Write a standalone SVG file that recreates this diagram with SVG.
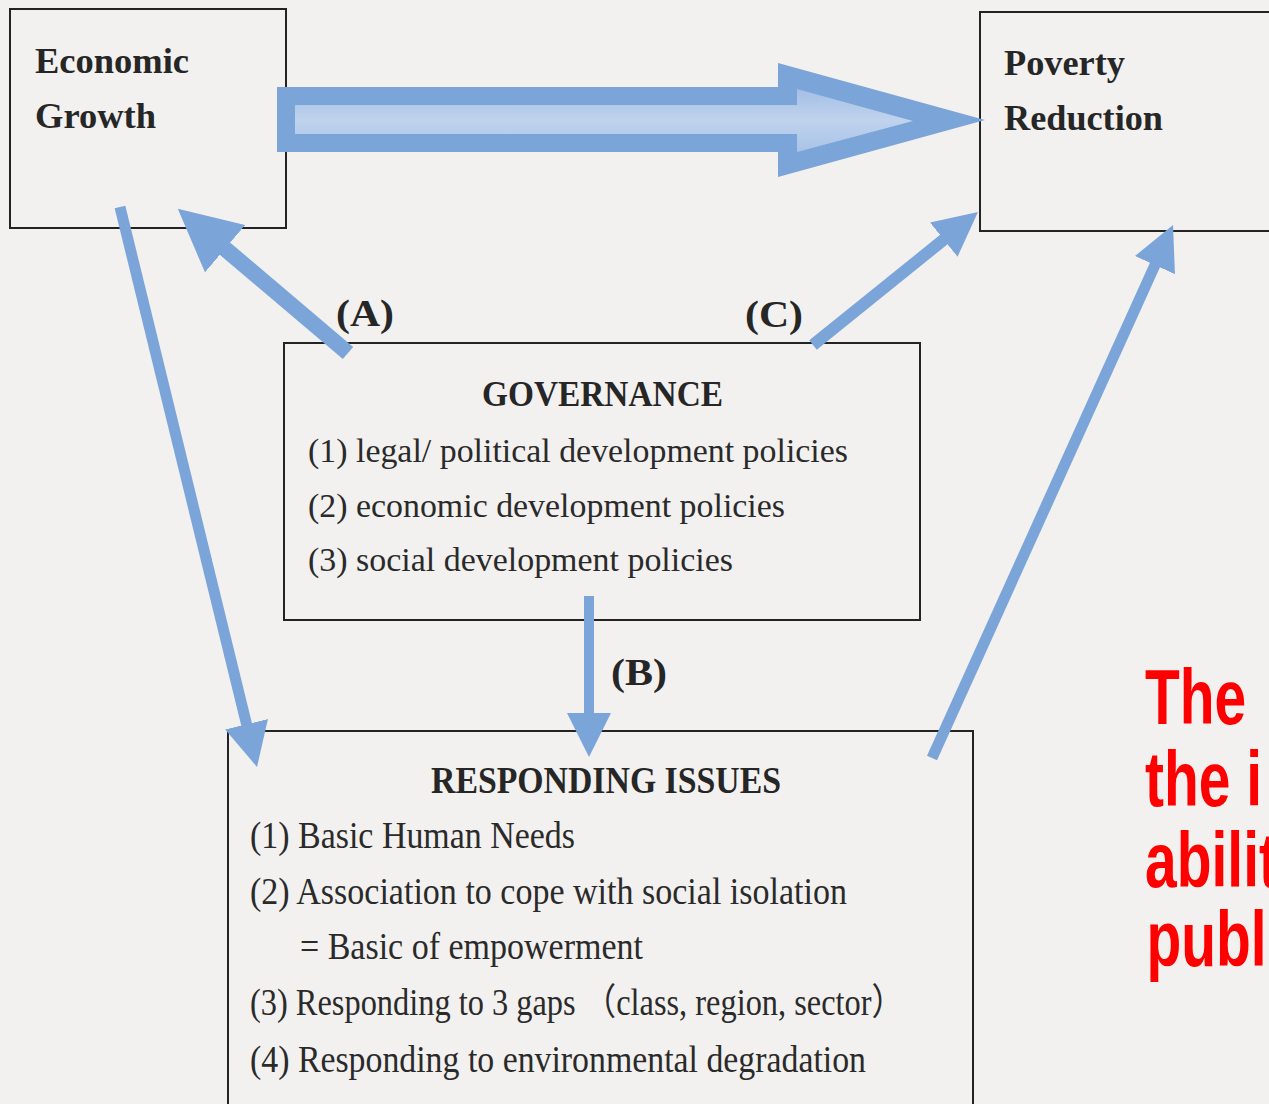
<svg xmlns="http://www.w3.org/2000/svg" width="1269" height="1104" viewBox="0 0 1269 1104">
  <style>
    .box { fill: none; stroke: #232323; stroke-width: 2; }
    .title { font-family: "Liberation Serif", "Times New Roman", serif; font-weight: bold; fill: #262626; }
    .body { font-family: "Liberation Serif", "Noto Sans CJK JP", serif; fill: #2a2a2a; }
    .conn { fill: none; stroke: #7ba4d9; stroke-linecap: butt; }
    .red { font-family: "Liberation Sans", "Arial", sans-serif; font-weight: bold; fill: #ff0000; font-size: 77px; }
  </style>
  <defs>
    <marker id="head" markerUnits="userSpaceOnUse" viewBox="0 0 44 44" markerWidth="44" markerHeight="44" refX="1" refY="22" orient="auto">
      <path d="M0,0 L44,22 L0,44 z" fill="#7ba4d9"/>
    </marker>
    <marker id="headBig" markerUnits="userSpaceOnUse" viewBox="0 0 62 62" markerWidth="62" markerHeight="62" refX="1" refY="31" orient="auto">
      <path d="M0,0 L62,31 L0,62 z" fill="#7ba4d9"/>
    </marker>
    <linearGradient id="inner" x1="0" y1="0" x2="0" y2="1">
      <stop offset="0" stop-color="#a3bfe5"/>
      <stop offset="0.5" stop-color="#c0d3ee"/>
      <stop offset="1" stop-color="#a8c3e7"/>
    </linearGradient>
  </defs>

  <rect x="0" y="0" width="1269" height="1104" fill="#f2f1ef"/>

  <g id="node-economic-growth">
    <rect class="box" x="10" y="9" width="276" height="219"/>
    <text class="title" x="35" y="73" font-size="36" textLength="154" lengthAdjust="spacingAndGlyphs">Economic</text>
    <text class="title" x="35" y="128" font-size="36" textLength="121" lengthAdjust="spacingAndGlyphs">Growth</text>
  </g>

  <g id="node-poverty-reduction">
    <rect class="box" x="980" y="12" width="320" height="219"/>
    <text class="title" x="1004" y="75" font-size="36" textLength="121" lengthAdjust="spacingAndGlyphs">Poverty</text>
    <text class="title" x="1004" y="130" font-size="36" textLength="159" lengthAdjust="spacingAndGlyphs">Reduction</text>
  </g>

  <g id="node-governance">
    <rect class="box" x="284" y="343" width="636" height="277"/>
    <text class="title" x="482" y="406" font-size="35" textLength="241" lengthAdjust="spacingAndGlyphs">GOVERNANCE</text>
    <text class="body" x="308" y="462" font-size="34" textLength="540" lengthAdjust="spacingAndGlyphs">(1) legal/ political development policies</text>
    <text class="body" x="308" y="517" font-size="34" textLength="477" lengthAdjust="spacingAndGlyphs">(2) economic development policies</text>
    <text class="body" x="308" y="571" font-size="34" textLength="425" lengthAdjust="spacingAndGlyphs">(3) social development policies</text>
  </g>

  <g id="node-responding-issues">
    <rect class="box" x="228" y="731" width="745" height="400"/>
    <text class="title" x="431" y="793" font-size="37" textLength="350" lengthAdjust="spacingAndGlyphs">RESPONDING ISSUES</text>
    <text class="body" x="250" y="848" font-size="37" textLength="325" lengthAdjust="spacingAndGlyphs">(1) Basic Human Needs</text>
    <text class="body" x="250" y="904" font-size="37" textLength="597" lengthAdjust="spacingAndGlyphs">(2) Association to cope with social isolation</text>
    <text class="body" x="300" y="959" font-size="37" textLength="343" lengthAdjust="spacingAndGlyphs">= Basic of empowerment</text>
    <text class="body" x="250" y="1015" font-size="37" textLength="654" lengthAdjust="spacingAndGlyphs">(3) Responding to 3 gaps （class, region, sector）</text>
    <text class="body" x="250" y="1072" font-size="37" textLength="616" lengthAdjust="spacingAndGlyphs">(4) Responding to environmental degradation</text>
  </g>

  <g id="connectors">
    <g id="main-arrow">
      <polygon points="277,87 778,87 778,63 985,120 778,177 778,152 277,152" fill="#7ba4d9"/>
      <polygon points="295,105 797,105 797,89 913,121 797,152 797,134 295,134" fill="url(#inner)"/>
    </g>
    <path class="conn" d="M348,353 L224.3,248.1" stroke-width="16" marker-end="url(#headBig)"/>
    <path class="conn" d="M120,207 L246.8,725.2" stroke-width="11" marker-end="url(#head)"/>
    <path class="conn" d="M589,596 L589,714" stroke-width="10" marker-end="url(#head)"/>
    <path class="conn" d="M813,345 L944.5,239" stroke-width="12" marker-end="url(#head)"/>
    <path class="conn" d="M932,758 L1155.3,264.2" stroke-width="11" marker-end="url(#head)"/>
  </g>

  <g id="labels">
    <text class="title" x="336" y="326" font-size="38" textLength="58" lengthAdjust="spacingAndGlyphs">(A)</text>
    <text class="title" x="745" y="327" font-size="38" textLength="58" lengthAdjust="spacingAndGlyphs">(C)</text>
    <text class="title" x="611" y="685" font-size="38" textLength="56" lengthAdjust="spacingAndGlyphs">(B)</text>
  </g>

  <g id="note" transform="translate(1145,0) scale(0.74,1)">
    <text class="red" x="0" y="724">The</text>
    <text class="red" x="0" y="806">the i</text>
    <text class="red" x="0" y="887">abilit</text>
    <text class="red" x="2" y="966">publi</text>
  </g>
</svg>
